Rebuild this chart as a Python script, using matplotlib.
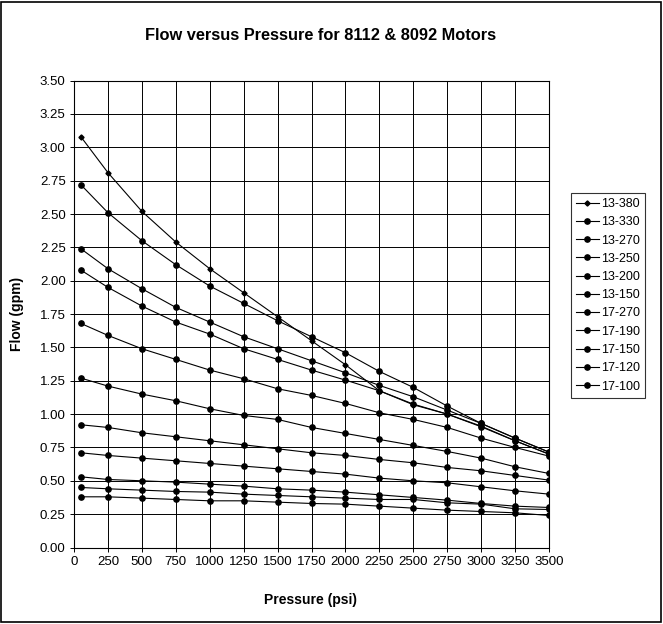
import numpy as np
import matplotlib.pyplot as plt
from matplotlib.patches import Rectangle

plt.rcParams['font.family'] = ['Liberation Sans', 'DejaVu Sans']

###data###
pressure = [50, 250, 500, 750, 1000, 1250, 1500, 1750, 2000, 2250, 2500, 2750, 3000, 3250, 3500]

motors = ["13-380", "13-330", "13-270", "13-250", "13-200", "13-150",
          "17-270", "17-190", "17-150", "17-120", "17-100"]

flow_13_380 = [3.08, 2.81, 2.52, 2.29, 2.09, 1.91, 1.73, 1.55, 1.37, 1.175, 1.07, 1.00, 0.91, 0.80, 0.70]
flow_13_330 = [2.72, 2.51, 2.30, 2.12, 1.96, 1.83, 1.70, 1.58, 1.46, 1.32, 1.20, 1.06, 0.93, 0.82, 0.715]
flow_13_270 = [2.24, 2.09, 1.94, 1.80, 1.69, 1.58, 1.49, 1.40, 1.31, 1.215, 1.13, 1.03, 0.93, 0.82, 0.715]
flow_13_250 = [2.08, 1.95, 1.81, 1.69, 1.60, 1.49, 1.41, 1.33, 1.255, 1.175, 1.075, 1.00, 0.905, 0.80, 0.70]
flow_13_200 = [1.68, 1.59, 1.49, 1.41, 1.33, 1.265, 1.19, 1.14, 1.08, 1.01, 0.96, 0.90, 0.82, 0.75, 0.685]
flow_13_150 = [1.27, 1.21, 1.15, 1.10, 1.04, 0.99, 0.96, 0.90, 0.855, 0.81, 0.765, 0.72, 0.67, 0.605, 0.555]
flow_17_270 = [0.92, 0.90, 0.86, 0.83, 0.80, 0.77, 0.74, 0.71, 0.69, 0.66, 0.635, 0.60, 0.575, 0.54, 0.505]
flow_17_190 = [0.71, 0.69, 0.67, 0.65, 0.63, 0.61, 0.59, 0.57, 0.55, 0.52, 0.50, 0.485, 0.455, 0.425, 0.40]
flow_17_150 = [0.53, 0.51, 0.50, 0.49, 0.475, 0.46, 0.44, 0.43, 0.415, 0.395, 0.375, 0.355, 0.33, 0.31, 0.30]
flow_17_120 = [0.45, 0.44, 0.43, 0.42, 0.415, 0.40, 0.39, 0.38, 0.37, 0.36, 0.36, 0.335, 0.325, 0.29, 0.285]
flow_17_100 = [0.38, 0.38, 0.37, 0.36, 0.35, 0.35, 0.34, 0.33, 0.325, 0.31, 0.295, 0.28, 0.27, 0.26, 0.24]

flows = [flow_13_380, flow_13_330, flow_13_270, flow_13_250, flow_13_200, flow_13_150,
         flow_17_270, flow_17_190, flow_17_150, flow_17_120, flow_17_100]

x_ticks = np.arange(0, 3501, 250)
y_ticks = np.arange(0, 3.51, 0.25)

fig = plt.figure(figsize=(6.63, 6.24), dpi=100)
ax = fig.add_axes([74/663, 1-547.5/624, (549-74)/663, (547.5-80.6)/624])

for i, (name, flow) in enumerate(zip(motors, flows)):
    if i == 0:
        ax.plot(pressure, flow, color="black", lw=0.8, marker="D", ms=2.6, label=name)
    else:
        ax.plot(pressure, flow, color="black", lw=0.8, marker="o", ms=3.8, label=name)

ax.set_xlim(0, 3500)
ax.set_ylim(0, 3.5)
ax.set_xticks(x_ticks)
ax.set_yticks(y_ticks)
ax.set_yticklabels(["%.2f" % v for v in y_ticks])
ax.grid(True, color="black", lw=0.7)
ax.set_axisbelow(True)
ax.tick_params(labelsize=9.5, length=3, width=0.7, colors="black", pad=3)
for s in ax.spines.values():
    s.set_linewidth(0.8)
    s.set_color("black")

fig.text(0.483, 1-36/624, "Flow versus Pressure for 8112 & 8092 Motors",
         ha="center", va="center", fontsize=11.8, fontweight="bold")
fig.text(311/663, 1-600/624, "Pressure (psi)", ha="center", va="center",
         fontsize=10, fontweight="bold")
fig.text(17/663, 1-314/624, "Flow (gpm)", ha="center", va="center",
         rotation=90, fontsize=10, fontweight="bold")

leg = fig.legend(loc="upper left", bbox_to_anchor=(571/663, 1-193/624),
                 fontsize=9, frameon=True, fancybox=False, edgecolor="black",
                 handlelength=1.8, handletextpad=0.2, labelspacing=0.5,
                 borderpad=0.4, borderaxespad=0)
leg.get_frame().set_linewidth(0.8)

fig.patches.append(Rectangle((0.002, 0.003), 0.995, 0.994, transform=fig.transFigure,
                             fill=False, edgecolor="black", lw=1.2))

plt.savefig("out.png", dpi=100)
